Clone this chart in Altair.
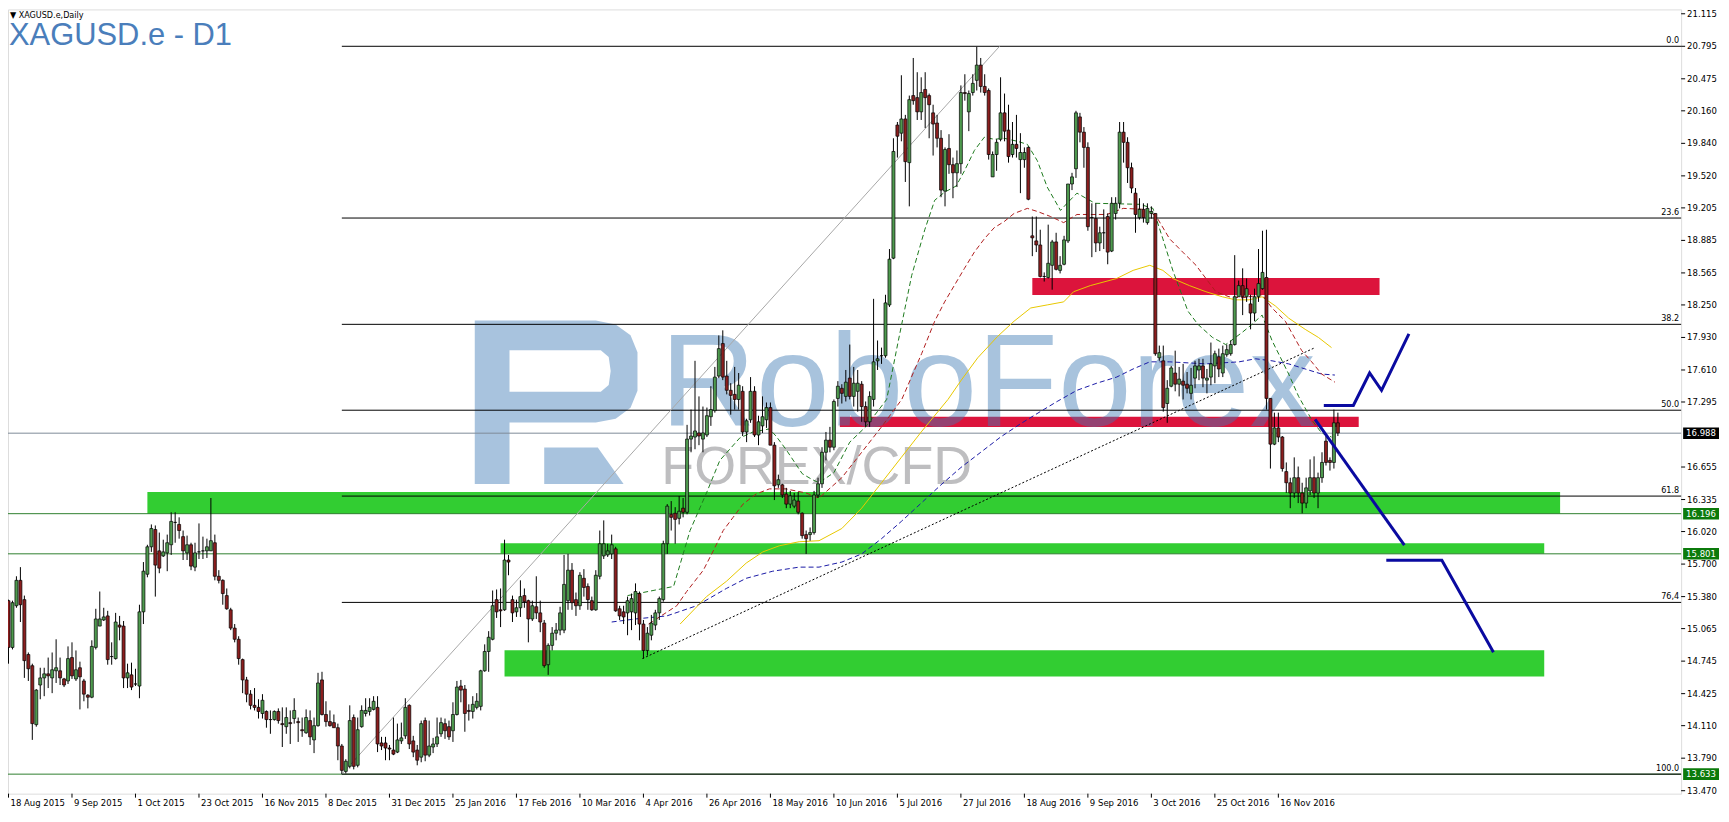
import altair as alt
import numpy as np
import pandas as pd

# ---------------- data ----------------
OPEN = [15.34,14.88,15.29,15.54,15.35,14.81,14.70,14.12,14.51,14.58,
14.62,14.58,14.65,14.65,14.57,14.55,14.78,14.57,14.68,14.55,
14.41,14.39,14.88,15.09,15.15,15.19,14.79,14.77,15.10,15.09,
14.58,14.61,14.52,14.50,15.23,15.60,15.87,16.04,15.83,15.78,
15.81,15.89,16.11,16.09,15.97,15.81,15.89,15.67,15.82,15.83,
15.83,15.83,15.91,15.58,15.54,15.39,15.25,15.07,14.96,14.76,
14.56,14.42,14.31,14.29,14.23,14.25,14.17,14.17,14.25,14.13,
14.10,14.14,14.18,14.15,14.07,14.04,14.16,13.97,14.11,14.56,
14.22,14.15,14.14,14.09,13.91,13.66,13.71,14.19,13.72,14.10,
14.23,14.25,14.27,14.29,13.94,13.94,13.89,13.87,13.85,13.96,
14.01,14.31,13.96,13.87,13.80,14.16,13.82,13.90,13.93,14.03,
14.13,14.10,14.06,14.22,14.50,14.47,14.26,14.25,14.29,14.30,
14.65,14.84,14.96,15.35,15.25,15.25,15.74,15.35,15.23,15.27,
15.39,15.34,15.16,15.28,15.22,15.12,14.71,14.90,15.02,15.05,
15.05,15.34,15.64,15.35,15.29,15.56,15.48,15.34,15.25,15.58,
15.78,15.79,15.80,15.85,15.26,15.23,15.22,15.23,15.22,15.41,
15.11,14.85,15.00,15.10,15.22,15.35,15.90,16.19,16.20,16.15,
16.25,16.21,16.93,16.95,16.99,16.93,16.97,17.15,17.21,17.55,
17.87,17.55,17.41,17.37,17.32,17.40,17.00,17.12,17.40,16.97,
17.06,17.12,17.24,16.87,16.48,16.48,16.39,16.29,16.27,16.32,
16.20,15.99,15.99,16.01,16.38,16.49,16.80,16.92,16.85,17.33,
17.43,17.35,17.53,17.35,17.40,17.47,17.25,17.10,17.32,17.70,
17.75,17.75,18.25,18.71,20.02,19.94,20.08,19.65,20.31,20.29,
20.15,20.37,20.31,20.14,20.04,19.89,19.37,19.79,19.63,19.55,
19.64,20.34,20.15,20.34,20.46,20.61,20.40,20.36,19.51,19.73,
19.88,20.14,19.97,19.73,19.83,19.68,19.68,19.80,18.93,18.88,
18.84,18.53,18.52,18.64,18.87,18.59,18.65,18.88,19.44,19.59,
20.10,19.95,19.80,19.11,19.10,18.86,18.96,19.12,18.78,19.15,
19.25,19.95,19.85,19.60,19.35,19.11,19.19,19.06,19.15,19.15,
17.73,17.70,17.28,17.45,17.58,17.47,17.50,17.47,17.38,17.53,
17.61,17.65,17.51,17.54,17.65,17.74,17.58,17.76,17.77,17.86,
18.33,18.44,18.33,18.26,18.17,18.33,18.41,18.52,17.33,16.88,
17.04,16.95,16.61,16.50,16.40,16.55,16.40,16.30,16.42,16.55,
16.40,16.55,16.91,16.72,16.70,17.09]

HIGH = [15.35,15.34,15.58,15.67,15.39,14.83,14.72,14.47,14.68,14.68,
14.78,14.83,14.96,14.78,14.58,14.89,14.93,14.85,14.74,14.57,
14.42,14.95,15.26,15.43,15.27,15.24,14.93,15.22,15.19,15.14,
14.72,14.73,14.67,15.30,15.72,15.89,16.09,16.08,16.01,15.94,
15.99,16.21,16.21,16.16,16.03,15.98,15.91,15.91,16.10,15.97,
15.95,16.35,15.99,15.64,15.55,15.46,15.27,15.11,14.99,14.77,
14.59,14.46,14.48,14.37,14.42,14.26,14.26,14.26,14.28,14.29,
14.29,14.26,14.38,14.19,14.19,14.27,14.26,14.19,14.63,14.64,
14.35,14.26,14.22,14.13,13.93,13.78,14.31,14.22,14.19,14.31,
14.38,14.38,14.40,14.40,14.00,14.00,13.92,14.19,14.13,14.14,
14.38,14.32,14.01,13.92,14.16,14.19,14.16,13.99,14.19,14.19,
14.18,14.16,14.34,14.55,14.56,14.51,14.32,14.40,14.43,14.66,
14.91,15.04,15.44,15.45,15.46,15.94,15.79,15.39,15.35,15.54,
15.46,15.35,15.34,15.58,15.34,15.15,14.92,15.08,15.12,15.28,
15.79,15.80,15.71,15.42,15.62,15.65,15.51,15.38,15.64,16.03,
16.13,15.90,15.99,15.87,15.29,15.29,15.38,15.41,15.51,15.43,
15.15,15.08,15.20,15.25,15.38,15.93,16.29,16.32,16.26,16.37,
16.35,17.07,17.22,17.70,17.35,17.25,17.24,17.45,17.64,17.95,
18.00,17.70,17.48,17.64,17.58,17.45,17.13,17.54,17.45,17.16,
17.35,17.29,17.29,16.90,16.58,16.49,16.45,16.42,16.40,16.41,
16.21,16.03,16.06,16.42,16.55,16.85,17.00,17.05,17.32,17.50,
17.47,17.61,17.86,17.64,17.61,17.50,17.30,17.40,18.31,17.90,
17.83,18.35,18.80,19.89,20.05,20.51,20.12,20.31,20.68,20.54,
20.49,20.54,20.33,20.22,20.12,19.97,19.80,19.93,19.70,19.77,
20.41,20.52,20.36,20.52,20.79,20.68,20.52,20.38,19.76,19.88,
20.49,20.33,20.22,20.05,20.12,19.94,19.80,19.81,19.12,19.12,
18.99,18.57,19.04,18.89,18.96,18.73,18.93,19.44,19.55,20.16,
20.14,20.00,19.85,19.25,19.25,19.02,19.19,19.15,19.31,19.31,
20.05,20.05,19.90,19.65,19.40,19.30,19.25,19.25,19.22,19.15,
17.85,17.85,17.51,17.65,17.80,17.64,17.67,17.59,17.63,17.70,
17.72,17.72,17.62,17.88,17.80,17.82,17.85,17.86,17.90,18.74,
18.49,18.61,18.51,18.35,18.41,18.80,18.98,18.99,17.33,17.19,
17.19,16.96,16.70,16.55,16.75,16.66,16.50,16.55,16.73,16.76,
16.60,16.80,16.96,16.75,17.22,17.19]

LOW = [14.72,14.86,15.27,15.13,14.58,14.55,13.97,14.10,14.37,14.40,
14.48,14.43,14.53,14.51,14.49,14.52,14.57,14.55,14.27,14.35,
14.28,14.38,14.86,15.09,15.14,14.71,14.71,14.76,14.95,14.48,
14.48,14.46,14.50,14.38,15.11,15.57,15.82,15.38,15.61,15.77,
15.63,15.79,15.91,15.95,15.74,15.74,15.64,15.63,15.75,15.75,
15.76,15.83,15.54,15.51,15.30,15.25,15.05,14.93,14.71,14.43,
14.34,14.27,14.26,14.18,14.18,14.09,14.03,14.16,14.13,13.90,
14.03,13.93,14.13,13.95,14.00,14.03,13.92,13.84,14.10,14.21,
14.10,14.10,14.09,13.77,13.633,13.64,13.69,13.68,13.70,14.09,
14.20,14.21,14.26,13.85,13.87,13.77,13.77,13.82,13.84,13.93,
13.98,13.88,13.80,13.72,13.75,13.76,13.80,13.84,13.90,14.00,
13.98,13.97,13.95,14.21,14.34,14.05,14.16,14.18,14.27,14.26,
14.64,14.64,14.95,15.17,15.08,15.24,15.59,15.13,15.18,15.18,
15.27,14.93,15.14,15.16,15.03,14.68,14.61,14.85,14.95,15.00,
15.02,15.25,15.25,15.19,15.25,15.38,15.25,15.24,15.24,15.55,
15.75,15.77,15.75,15.23,15.15,15.11,15.00,15.05,15.10,14.95,
14.77,14.80,14.95,15.05,15.15,15.33,15.80,16.03,15.90,16.09,
16.16,16.19,16.80,16.83,16.87,16.80,16.95,17.06,17.19,17.53,
17.51,17.37,17.17,17.22,17.22,16.96,16.90,17.09,16.95,16.87,
16.99,17.04,16.87,16.33,16.45,16.35,16.25,16.25,16.25,16.19,
15.95,15.80,15.93,15.99,16.35,16.45,16.72,16.80,16.82,17.25,
17.28,17.30,17.32,17.25,17.20,17.10,17.05,17.05,17.25,17.61,
17.67,17.73,18.23,18.70,19.70,19.86,19.46,19.22,20.22,20.07,
20.07,19.99,19.89,19.72,19.80,19.31,19.22,19.54,19.30,19.41,
19.54,20.26,19.96,20.31,20.36,20.34,20.31,19.68,19.51,19.57,
19.86,19.86,19.65,19.70,19.70,19.35,19.60,19.28,18.73,18.77,
18.52,18.48,18.51,18.40,18.59,18.56,18.64,18.86,19.38,19.50,
19.85,19.60,18.98,18.72,18.77,18.78,18.80,18.65,18.77,19.09,
19.20,19.65,19.45,19.35,18.96,19.09,19.06,19.04,19.10,17.75,
17.70,17.20,17.09,17.44,17.40,17.35,17.32,17.38,17.32,17.43,
17.51,17.44,17.38,17.46,17.48,17.54,17.54,17.74,17.75,17.85,
18.33,18.15,18.28,18.01,18.09,18.28,18.40,17.22,16.64,16.87,
16.90,16.61,16.40,16.25,16.35,16.30,16.20,16.25,16.38,16.35,
16.25,16.50,16.67,16.62,16.64,16.96]

CLOSE = [14.88,15.32,15.54,15.30,14.75,14.67,14.13,14.46,14.58,14.62,
14.60,14.66,14.68,14.58,14.51,14.77,14.60,14.66,14.59,14.42,
14.39,14.89,15.16,15.16,15.18,14.76,14.79,15.13,15.08,14.58,
14.63,14.49,14.52,15.23,15.63,15.87,16.05,15.69,15.66,15.82,
15.91,16.12,16.11,16.03,15.83,15.89,15.68,15.81,15.82,15.83,
15.87,15.93,15.58,15.54,15.41,15.26,15.07,14.96,14.77,14.56,
14.42,14.31,14.29,14.25,14.36,14.17,14.17,14.25,14.16,14.12,
14.19,14.13,14.26,14.14,14.06,14.19,14.00,14.11,14.53,14.22,
14.15,14.11,14.09,13.91,13.67,13.76,14.16,13.71,14.07,14.26,
14.26,14.29,14.35,13.93,13.91,13.89,13.88,13.83,13.97,13.99,
14.29,13.93,13.85,13.77,14.13,13.82,13.91,13.93,14.00,14.14,
14.06,14.00,14.22,14.49,14.46,14.23,14.25,14.32,14.35,14.65,
14.84,14.98,15.29,15.23,15.24,15.74,15.72,15.22,15.27,15.38,
15.33,15.16,15.29,15.22,15.13,14.70,14.90,15.02,15.05,15.22,
15.50,15.64,15.32,15.29,15.59,15.47,15.35,15.25,15.59,15.90,
15.90,15.83,15.89,15.24,15.19,15.18,15.34,15.36,15.43,15.11,
14.85,15.02,15.12,15.22,15.36,15.90,16.27,16.16,16.14,16.22,
16.21,16.93,16.96,17.01,16.96,16.99,17.16,17.22,17.54,17.82,
17.54,17.41,17.36,17.32,17.46,17.00,17.11,17.40,16.97,17.10,
17.15,17.24,16.87,16.47,16.53,16.38,16.29,16.37,16.33,16.21,
15.98,15.95,16.01,16.38,16.49,16.80,16.92,16.85,17.30,17.45,
17.38,17.49,17.35,17.48,17.48,17.25,17.10,17.35,17.69,17.72,
17.75,18.27,18.70,19.76,19.91,20.08,19.66,20.27,20.26,20.15,
20.34,20.29,20.22,20.03,19.89,19.38,19.78,19.63,19.55,19.64,
20.34,20.33,20.33,20.43,20.61,20.40,20.34,19.73,19.73,19.85,
20.14,19.96,19.71,19.83,19.79,19.75,19.75,19.29,18.91,18.84,
18.53,18.53,18.66,18.87,18.60,18.64,18.89,19.44,19.51,20.14,
19.95,19.80,19.02,19.11,18.86,18.96,18.96,18.77,19.25,19.25,
19.95,19.85,19.60,19.40,19.14,19.19,19.11,19.20,19.17,17.77,
17.78,17.24,17.43,17.63,17.47,17.52,17.46,17.43,17.46,17.65,
17.65,17.53,17.53,17.67,17.77,17.62,17.77,17.81,17.86,18.33,
18.44,18.33,18.41,18.17,18.33,18.46,18.57,17.33,16.88,17.04,
16.95,16.64,16.50,16.40,16.55,16.40,16.30,16.45,16.55,16.40,
16.55,16.70,16.70,16.70,17.09,16.99]

DATE_TICKS = [0, 16, 32, 48, 64, 80, 96, 112, 128, 144, 160, 176, 192, 208,
              224, 240, 256, 272, 288, 304, 320]
DATE_LABELS = ["18 Aug 2015", "9 Sep 2015", "1 Oct 2015", "23 Oct 2015", "16 Nov 2015",
               "8 Dec 2015", "31 Dec 2015", "25 Jan 2016", "17 Feb 2016", "10 Mar 2016",
               "4 Apr 2016", "26 Apr 2016", "18 May 2016", "10 Jun 2016", "5 Jul 2016",
               "27 Jul 2016", "18 Aug 2016", "9 Sep 2016", "3 Oct 2016", "25 Oct 2016",
               "16 Nov 2016"]
PRICE_TICKS = [21.115, 20.795, 20.475, 20.160, 19.840, 19.520, 19.205, 18.885, 18.565,
               18.250, 17.930, 17.610, 17.295, 16.655, 16.335, 16.020, 15.700, 15.380,
               15.065, 14.745, 14.425, 14.110, 13.790, 13.470]

FIB_LEVELS = [20.795, 19.105, 18.059, 17.214, 16.369, 15.323, 13.633]
FIB_TEXT = ["0.0", "23.6", "38.2", "50.0", "61.8", "76,4", "100.0"]
FIB_START = 84
FIB_TREND_I = [84, 249.75]
FIB_TREND_P = [13.633, 20.795]

ZONE_I0 = [35, 124, 125, 258, 209.5]
ZONE_I1 = [391, 387, 387, 345.5, 340.25]
ZONE_P0 = [16.196, 15.801, 14.594, 18.347, 17.05]
ZONE_P1 = [16.41, 15.906, 14.852, 18.515, 17.15]
ZONE_COL = ["#32CD32", "#32CD32", "#32CD32", "#DC143C", "#DC143C"]

LEVEL_P = [16.196, 15.801, 13.633, 16.988]
LEVEL_COL = ["#2F7F2F", "#2F7F2F", "#2F7F2F", "#7F8C99"]

TAG_P = [16.988, 16.196, 15.801, 13.633]
TAG_TEXT = ["16.988", "16.196", "15.801", "13.633"]
TAG_COL = ["#000000", "#0B7A0B", "#0B7A0B", "#0B7A0B"]

TREND_I = [159.75, 329.25]
TREND_P = [14.77, 17.83]

MA_GREEN_I = [156, 167.6, 171.75, 176, 179.25, 181.75, 184.25, 187.6, 191.75, 193.4, 195.9,
              200, 202.6, 204.25, 208, 212, 216, 221.3, 224.25, 227.6, 230.9, 233.4, 235.9,
              238.8, 240.9, 243.4, 245.9, 248.4, 250.9, 254.25, 256.75, 259.25, 261.75,
              265.1, 266.75, 269.25, 273.8, 285.1, 288.4, 290.9, 293.4, 297.2, 299.7, 303.4,
              306.75, 310.9, 313.4, 315.9, 318.4, 322.6, 325.1, 328.4, 330.9, 333.4]
MA_GREEN_P = [15.39, 15.48, 16.03, 16.41, 16.72, 16.83, 16.94, 17.00, 17.03, 16.96, 16.83,
              16.59, 16.53, 16.50, 16.60, 16.90, 17.05, 17.32, 17.90, 18.54, 18.99, 19.28,
              19.36, 19.42, 19.57, 19.77, 19.90, 19.88, 19.89, 19.86, 19.83, 19.67, 19.41,
              19.18, 19.25, 19.35, 19.25, 19.24, 19.20, 18.90, 18.59, 18.19, 18.06, 17.93,
              17.86, 17.98, 18.06, 18.15, 17.90, 17.57, 17.35, 17.12, 16.99, 16.95]

MA_RED_I = [161.3, 168.4, 170.9, 175.1, 177.6, 180.1, 182.6, 185.1, 188.4, 191.75, 195.9,
            200.9, 204.25, 210, 215, 220, 225.1, 230.1, 233.4, 235.9, 240.9, 243.4, 245.9,
            248.4, 250.9, 253.4, 256.75, 259.25, 262.6, 265.9, 269.25, 276.75, 280.9,
            286.75, 289.25, 292.6, 295.9, 299.25, 301.75, 304.25, 307.6, 310.9, 315.9,
            318.4, 321.75, 325.9, 328.4, 330.9, 334.25]
MA_RED_P = [15.11, 15.29, 15.43, 15.64, 15.83, 16.03, 16.16, 16.29, 16.39, 16.44, 16.44,
            16.40, 16.35, 16.55, 16.80, 17.05, 17.32, 17.77, 18.09, 18.28, 18.61, 18.77,
            18.90, 19.01, 19.07, 19.15, 19.20, 19.17, 19.12, 19.06, 19.14, 19.14, 19.20,
            19.19, 19.12, 18.90, 18.77, 18.64, 18.51, 18.38, 18.33, 18.32, 18.35, 18.22,
            18.09, 17.80, 17.69, 17.57, 17.49]

MA_YEL_I = [169.25, 175.9, 180.9, 185.9, 190.1, 194.25, 199.25, 204.25, 210, 215, 220, 225,
            230, 236.75, 240.1, 244.25, 249.25, 253.4, 257.6, 261.75, 265.9, 268.4, 272.6,
            279.25, 283.4, 287.6, 290.9, 293.4, 297.6, 301.75, 305.9, 309.25, 312.6, 315.9,
            319.25, 322.6, 326.75, 330.1, 333.4]
MA_YEL_P = [15.11, 15.38, 15.53, 15.71, 15.82, 15.88, 15.92, 15.93, 16.05, 16.25, 16.50,
            16.75, 17.00, 17.32, 17.51, 17.73, 17.94, 18.09, 18.22, 18.25, 18.28, 18.38,
            18.44, 18.51, 18.59, 18.64, 18.59, 18.51, 18.44, 18.38, 18.33, 18.30, 18.30,
            18.33, 18.24, 18.12, 18.01, 17.93, 17.83]

MA_BLUE_I = [152, 158, 165.9, 173.4, 180.9, 185.9, 192.6, 199.25, 204.25, 210, 215, 220, 225,
             230, 235, 240, 245, 250, 255, 260, 264.25, 269.25, 274.25, 279.25, 283.4, 287.6,
             292.6, 301.75, 310.1, 314.25, 318.4, 322.6, 326.75, 330.9, 334.25]
MA_BLUE_P = [15.13, 15.16, 15.19, 15.29, 15.46, 15.56, 15.63, 15.67, 15.67, 15.72, 15.80,
             15.95, 16.12, 16.30, 16.48, 16.65, 16.80, 16.95, 17.08, 17.20, 17.30, 17.41,
             17.48, 17.54, 17.62, 17.69, 17.69, 17.67, 17.69, 17.72, 17.70, 17.67, 17.62,
             17.57, 17.56]

PATH_SEG = [0, 0, 0, 0, 0, 1, 1, 2, 2, 2]
PATH_I = [331.45, 338.9, 343, 346, 352.9, 329.25, 351.75, 347.2, 361.2, 374.2]
PATH_P = [17.261, 17.261, 17.58, 17.41, 17.965, 17.123, 15.886, 15.737, 15.737, 14.833]

# ---------------- layout ----------------
W, H = 1679, 787
X_DOM = [-0.125, 421.5]
Y_DOM = [13.441, 21.158]
SX = W / 1686.5
SY = H / 798.5


def px(x):
    return (x - 2.5) * SX


def py(y):
    return (y - 2.5) * SY


FONT = "DejaVu Sans Condensed, DejaVu Sans, sans-serif"
AXF = 9.5
xs = alt.Scale(domain=X_DOM, nice=False, zero=False, padding=0)
ys = alt.Scale(domain=Y_DOM, nice=False, zero=False, padding=0)


def X(field):
    return alt.X(field, scale=xs, axis=None)


def Y(field):
    return alt.Y(field, scale=ys, axis=None)


n = len(CLOSE)
cdf = pd.DataFrame({"i": np.arange(n), "o": OPEN, "h": HIGH, "l": LOW, "c": CLOSE})
cdf["top"] = cdf[["o", "c"]].max(axis=1)
cdf["bot"] = cdf[["o", "c"]].min(axis=1)
cdf["col"] = np.where(cdf["c"] >= cdf["o"], "#4E9A4E", "#8B1E1E")

# zones
zdf = pd.DataFrame({"i0": ZONE_I0, "i1": ZONE_I1, "p0": ZONE_P0, "p1": ZONE_P1, "col": ZONE_COL})
zones = alt.Chart(zdf).mark_rect().encode(
    x=X("i0:Q"), x2="i1:Q", y=Y("p0:Q"), y2="p1:Q", color=alt.Color("col:N", scale=None))

# watermark
WM_BLUE = "#3F7BB5"
logo_outer = [(473, 320), (595, 320), (615, 324), (630, 335), (637, 352), (637, 391),
              (630, 408), (615, 419), (595, 423), (508, 423), (508, 485), (473, 485)]
logo_hole = [(508, 350), (508, 392), (600, 392), (608, 385), (610, 371), (608, 357), (600, 350)]
logo_leg = [(543, 448), (597, 448), (623, 485), (543, 485)]
LC = (555, 402.5)
LHALF = 83.0


def sub(pts):
    s = ""
    for k, (a, b) in enumerate(pts):
        s += ("M" if k == 0 else "L") + "%.4f,%.4f" % ((a - LC[0]) / LHALF, (b - LC[1]) / LHALF)
    return s + "Z"


LOGO = sub(logo_outer) + sub(logo_hole) + sub(logo_leg)
one = pd.DataFrame({"t": ["RoboForex"]})
logo = alt.Chart(one).mark_point(shape=LOGO, size=(2 * LHALF * SX) ** 2, filled=True,
                                 fill=WM_BLUE, fillOpacity=0.45, strokeWidth=0).encode(
    x=alt.value(px(LC[0])), y=alt.value(py(LC[1])))
wm1 = alt.Chart(one).mark_text(font="Liberation Sans, Arial, sans-serif", fontSize=133,
                               align="left", baseline="alphabetic", color=WM_BLUE,
                               opacity=0.45).encode(
    x=alt.value(px(660)), y=alt.value(py(427)), text="t:N")
wm2 = alt.Chart(pd.DataFrame({"t": ["FOREX/CFD"]})).mark_text(
    font="Liberation Sans, Arial, sans-serif", fontSize=54, align="left",
    baseline="alphabetic", color="#8A8A8E", opacity=0.55).encode(
    x=alt.value(px(661)), y=alt.value(py(486)), text="t:N")

# level lines
ldf = pd.DataFrame({"p": LEVEL_P, "col": LEVEL_COL, "i0": X_DOM[0], "i1": X_DOM[1]})
levels = alt.Chart(ldf).mark_rule(strokeWidth=1).encode(
    x=X("i0:Q"), x2="i1:Q", y=Y("p:Q"), color=alt.Color("col:N", scale=None))
fdf = pd.DataFrame({"p": FIB_LEVELS, "t": FIB_TEXT, "i0": FIB_START, "i1": X_DOM[1]})
fibs = alt.Chart(fdf).mark_rule(strokeWidth=1, color="black").encode(
    x=X("i0:Q"), x2="i1:Q", y=Y("p:Q"))
fib_txt = alt.Chart(fdf).mark_text(align="right", baseline="bottom", dx=-2, dy=-1,
                                   font=FONT, fontSize=9, color="black").encode(
    x=X("i1:Q"), y=Y("p:Q"), text="t:N")

tdf = pd.DataFrame({"i0": [FIB_TREND_I[0]], "i1": [FIB_TREND_I[1]],
                    "p0": [FIB_TREND_P[0]], "p1": [FIB_TREND_P[1]]})
fib_trend = alt.Chart(tdf).mark_rule(strokeWidth=1, color="#A8A8A8").encode(
    x=X("i0:Q"), x2="i1:Q", y=Y("p0:Q"), y2="p1:Q")
ddf = pd.DataFrame({"i0": [TREND_I[0]], "i1": [TREND_I[1]],
                    "p0": [TREND_P[0]], "p1": [TREND_P[1]]})
dot_trend = alt.Chart(ddf).mark_rule(strokeWidth=1, color="black", strokeDash=[2, 2]).encode(
    x=X("i0:Q"), x2="i1:Q", y=Y("p0:Q"), y2="p1:Q")


def ma_layer(ii, pp, color, dash):
    d = pd.DataFrame({"i": ii, "p": pp})
    kw = dict(color=color, strokeWidth=1)
    if dash:
        kw["strokeDash"] = dash
    return alt.Chart(d).mark_line(**kw).encode(x=X("i:Q"), y=Y("p:Q"))


ma_blue = ma_layer(MA_BLUE_I, MA_BLUE_P, "#1A1AA6", [5, 3])
ma_yel = ma_layer(MA_YEL_I, MA_YEL_P, "#E8C800", None)
ma_red = ma_layer(MA_RED_I, MA_RED_P, "#B01E1E", [5, 3])
ma_green = ma_layer(MA_GREEN_I, MA_GREEN_P, "#1E7A1E", [5, 3])

wicks = alt.Chart(cdf).mark_rule(color="black", strokeWidth=1).encode(
    x=X("i:Q"), y=Y("l:Q"), y2="h:Q")
bodies = alt.Chart(cdf).mark_bar(size=3, stroke="black", strokeWidth=0.7).encode(
    x=X("i:Q"), y=Y("bot:Q"), y2="top:Q", color=alt.Color("col:N", scale=None))

pdf = pd.DataFrame({"seg": PATH_SEG, "i": PATH_I, "p": PATH_P, "k": np.arange(len(PATH_I))})
path = alt.Chart(pdf).mark_line(color="#0A0AA0", strokeWidth=3).encode(
    x=X("i:Q"), y=Y("p:Q"), detail="seg:N", order="k:Q")

# axes drawn as marks through the same scales
xt = pd.DataFrame({"i": DATE_TICKS, "t": DATE_LABELS})
x_ticks = alt.Chart(xt).mark_rule(color="black", strokeWidth=1).encode(
    x=X("i:Q"), y=alt.value(H), y2=alt.value(H + 4))
x_labels = alt.Chart(xt).mark_text(align="left", baseline="top", dx=2, font=FONT,
                                   fontSize=AXF, color="black").encode(
    x=X("i:Q"), y=alt.value(H + 4), text="t:N")
yt = pd.DataFrame({"p": PRICE_TICKS, "t": ["%.3f" % v for v in PRICE_TICKS]})
y_ticks = alt.Chart(yt).mark_rule(color="black", strokeWidth=1).encode(
    y=Y("p:Q"), x=alt.value(W), x2=alt.value(W + 4))
y_labels = alt.Chart(yt).mark_text(align="left", baseline="middle", font=FONT,
                                   fontSize=AXF, color="black").encode(
    y=Y("p:Q"), x=alt.value(W + 6), text="t:N")

gdf = pd.DataFrame({"p": TAG_P, "t": TAG_TEXT, "col": TAG_COL})
gdf["p0"] = gdf["p"] - 0.057
gdf["p1"] = gdf["p"] + 0.057
tags = alt.Chart(gdf).mark_rect().encode(
    x=alt.value(W + 2), x2=alt.value(W + 38),
    y=Y("p0:Q"), y2="p1:Q", color=alt.Color("col:N", scale=None))
tag_txt = alt.Chart(gdf).mark_text(align="left", baseline="middle", font=FONT, fontSize=AXF,
                                   color="white").encode(
    x=alt.value(W + 5), y=Y("p:Q"), text="t:N")

title_big = alt.Chart(pd.DataFrame({"t": ["XAGUSD.e - D1"]})).mark_text(
    font="Liberation Sans, Arial, sans-serif", fontSize=31, align="left",
    baseline="alphabetic", color="#4A7EBB").encode(
    x=alt.value(1), y=alt.value(36), text="t:N")
title_small = alt.Chart(pd.DataFrame({"t": ["\u25bc  XAGUSD.e,Daily"]})).mark_text(
    font=FONT, fontSize=9, align="left", baseline="alphabetic", color="black").encode(
    x=alt.value(2), y=alt.value(9), text="t:N")

chart = alt.layer(
    zones, logo, wm1, wm2, levels, fibs, fib_trend, dot_trend,
    ma_blue, ma_yel, ma_red, ma_green, wicks, bodies, path, fib_txt,
    x_ticks, x_labels, y_ticks, y_labels,
    tags, tag_txt, title_big, title_small
).properties(
    width=W, height=H,
    autosize=alt.AutoSizeParams(type="none"),
    padding={"left": 0, "top": 0, "right": 40, "bottom": 16},
).configure_view(stroke="black", strokeWidth=1).configure(background="white")

chart.save("out.html", embed_options={"renderer": "svg", "actions": False})
